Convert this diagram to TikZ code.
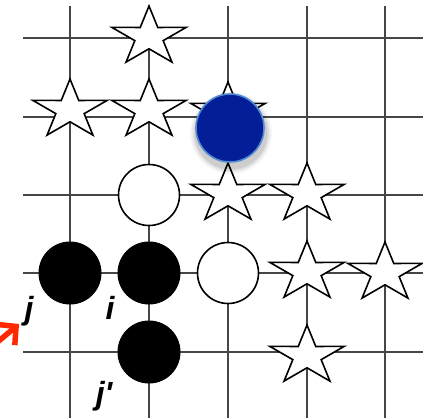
\documentclass[tikz,border=0pt]{standalone}
\usepackage{fontspec}
\setmainfont{Liberation Sans}
\usetikzlibrary{arrows.meta}
\definecolor{stoneblue}{RGB}{3,30,150}
\definecolor{rimblue}{RGB}{80,140,210}
\definecolor{arrowred}{RGB}{255,40,0}
\definecolor{gridgray}{RGB}{70,70,70}
\tikzset{
  gridline/.style={draw=gridgray, line width=2.2pt},
  starline/.style={draw=black, fill=white, line width=1.6pt, line join=miter},
  gostar/.pic={\draw[starline] (-90:39 and 31) -- (-54:14.9 and 11.8) -- (-18:39 and 31) -- (18:14.9 and 11.8) -- (54:39 and 31) -- (90:14.9 and 11.8) -- (126:39 and 31) -- (162:14.9 and 11.8) -- (198:39 and 31) -- (234:14.9 and 11.8) -- cycle;},
  blackstone/.style={circle, fill=black, draw=black, line width=1pt, minimum size=62pt, inner sep=0pt},
  whitestone/.style={circle, fill=white, draw=black, line width=1.6pt, minimum size=61pt, inner sep=0pt},
  bluestone/.style={circle, fill=stoneblue, draw=rimblue, line width=1.6pt, minimum size=68pt, inner sep=0pt},
  lbl/.style={font=\fontsize{32}{36}\selectfont\bfseries\itshape, inner sep=0pt, anchor=base},
  redarrow/.style={draw=arrowred, line width=5.5pt, -{Straight Barb[length=13pt, width=27pt, line join=miter]}}
}
\begin{document}
\begin{tikzpicture}[x=1pt, y=-1pt]
\useasboundingbox (0,0) rectangle (423,418);
\fill[white] (0,0) rectangle (423,418);
% grid
\foreach \y in {38,117,195,273,352} \draw[gridline] (23,\y) -- (423,\y);
\foreach \x in {70,149,228,307,385} \draw[gridline] (\x,6) -- (\x,418);
% stars
\pic (s1) at (149,37) {gostar};
\pic (s2) at (70,110) {gostar};
\pic (s3) at (149,110) {gostar};
\pic (s4) at (228,113) {gostar};
\pic (s5) at (228,194) {gostar};
\pic (s6) at (307,194) {gostar};
\pic (s7) at (307,272) {gostar};
\pic (s8) at (385,273) {gostar};
\pic (s9) at (307,356) {gostar};
% stones
\node[whitestone] (w1) at (149,195) {};
\node[whitestone] (w2) at (228,273) {};
\node[blackstone] (bj) at (70,273) {};
\node[blackstone] (bi) at (149,273) {};
\node[blackstone] (bjp) at (149,352) {};
% blue stone with soft shadow
\foreach \r/\o in {41/0.03, 39.5/0.04, 38/0.06, 36.5/0.08} \fill[black, opacity=\o] (231,133) circle (\r);
\node[bluestone] (blue) at (230,128) {};
% labels
\node[lbl] (lj) at (29,319) {j};
\node[lbl] (li) at (110,319) {i};
\node[lbl] (ljp) at (104,404) {j\textquotesingle};
% arrow
\coordinate (as) at (-12,350);
\coordinate (at) at (19,324);
\draw[redarrow] (as) -- (at);
\end{tikzpicture}
\end{document}
